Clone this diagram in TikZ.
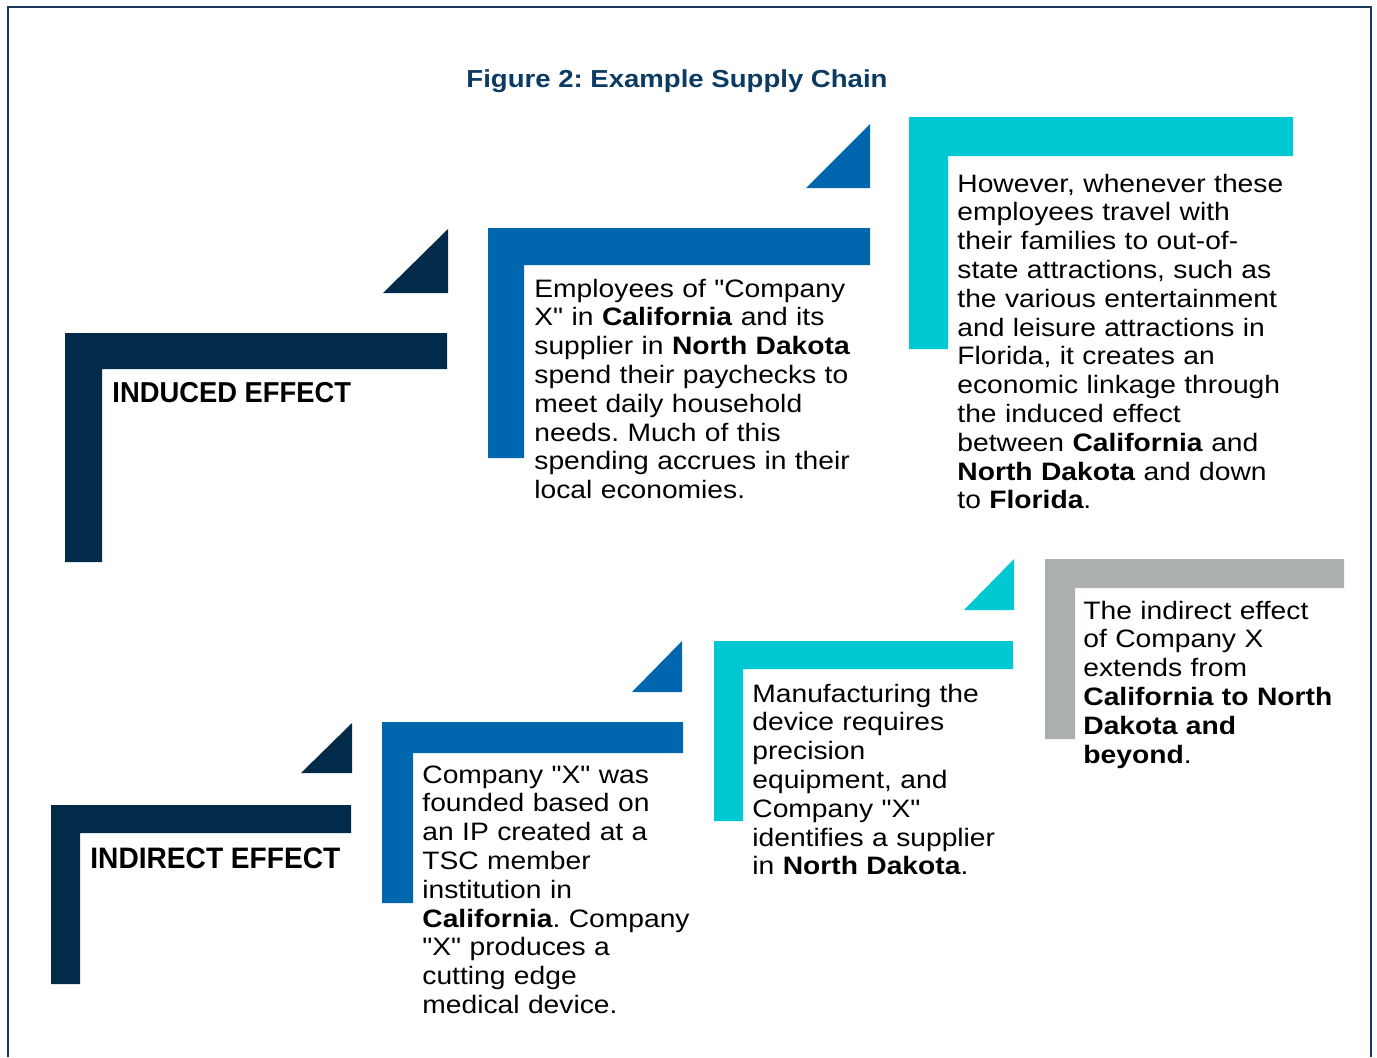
\documentclass[tikz,border=0pt]{standalone}
\usepackage{fontspec}
\setmainfont{Liberation Sans}
\newfontfamily\bodyfont[FakeStretch=1.12]{Liberation Sans}
\newfontfamily\labelfont[FakeStretch=0.95]{Liberation Sans}
\usepackage{tikz}
\frenchspacing
\definecolor{TSCNavy}{HTML}{022B4A}
\definecolor{TSCBlue}{HTML}{0067AE}
\definecolor{TSCCyan}{HTML}{00C8D3}
\definecolor{TSCGray}{HTML}{ACAFB0}
\definecolor{TSCTitle}{HTML}{0B3A63}
\definecolor{TSCFrame}{HTML}{193A5C}

\begin{document}
\begin{tikzpicture}[x=0.5pt, y=-0.5pt,
                    every node/.style={inner sep=0pt, anchor=base west, align=left},
                    bodytext/.style={text width=7cm, font=\bodyfont\fontsize{12.6}{14.4}\selectfont},
                    effectlabel/.style={font=\labelfont\bfseries\fontsize{14.4}{17}\selectfont}]
  \useasboundingbox (0,0) rectangle (1377,1057);
  \draw[TSCFrame, line width=1.3pt] (8,1057) -- (8,7) -- (1371,7) -- (1371,1057);
  \node[anchor=base, text=TSCTitle, font=\bodyfont\bfseries\fontsize{12.3}{15}\selectfont] (title) at (677,87) {Figure 2: Example Supply Chain};
  % induced row
  \fill[TSCNavy] (65,333) -| (447,369) -| (102,562) -- (65,562) -- cycle;
  \fill[TSCNavy] (383,293) -- (448,293) -- (448,229) -- cycle;
  \fill[TSCBlue] (488,228) -| (870,265) -| (524,458) -- (488,458) -- cycle;
  \fill[TSCBlue] (806,188) -- (870,188) -- (870,124) -- cycle;
  \fill[TSCCyan] (909,117) -| (1293,156) -| (948,349) -- (909,349) -- cycle;
  \node[effectlabel] (induced) at (112,402) {INDUCED EFFECT};
  \node[bodytext] (wages) at (534,297) {Employees of "Company\\
    X" in \textbf{California} and its\\
    supplier in \textbf{North Dakota}\\
    spend their paychecks to\\
    meet daily household\\
    needs. Much of this\\
    spending accrues in their\\
    local economies.};
  \node[bodytext] (tourism) at (957,192) {However, whenever these\\
    employees travel with\\
    their families to out-of-\\
    state attractions, such as\\
    the various entertainment\\
    and leisure attractions in\\
    Florida, it creates an\\
    economic linkage through\\
    the induced effect\\
    between \textbf{California} and\\
    \textbf{North Dakota} and down\\
    to \textbf{Florida}.};
  % indirect row
  \fill[TSCNavy] (51,805) -| (351,833) -| (80,984) -- (51,984) -- cycle;
  \fill[TSCNavy] (301,773) -- (352,773) -- (352,723) -- cycle;
  \fill[TSCBlue] (382,722) -| (683,753) -| (413,903) -- (382,903) -- cycle;
  \fill[TSCBlue] (632,692) -- (682,692) -- (682,641) -- cycle;
  \fill[TSCCyan] (714,641) -| (1013,669) -| (743,821) -- (714,821) -- cycle;
  \fill[TSCCyan] (964,610) -- (1014,610) -- (1014,559) -- cycle;
  \fill[TSCGray] (1045,559) -| (1344,588) -| (1075,739) -- (1045,739) -- cycle;
  \node[effectlabel, font=\labelfont\bfseries\fontsize{14.8}{17}\selectfont] (indirect) at (90,868) {INDIRECT EFFECT};
  \node[bodytext] (founding) at (422,783) {Company "X" was\\
    founded based on\\
    an IP created at a\\
    TSC member\\
    institution in\\
    \textbf{California}. Company\\
    "X" produces a\\
    cutting edge\\
    medical device.};
  \node[bodytext] (equipment) at (752,702) {Manufacturing the\\
    device requires\\
    precision\\
    equipment, and\\
    Company "X"\\
    identifies a supplier\\
    in \textbf{North Dakota}.};
  \node[bodytext] (reach) at (1083,619) {The indirect effect\\
    of Company X\\
    extends from\\
    \textbf{California to North}\\
    \textbf{Dakota and}\\
    \textbf{beyond}.};
\end{tikzpicture}
\end{document}
